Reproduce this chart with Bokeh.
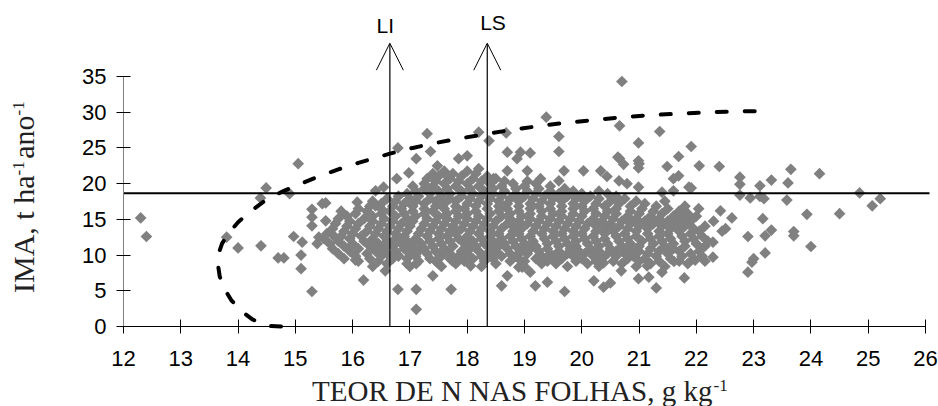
import math
from bokeh.plotting import figure
from bokeh.models import FixedTicker, Arrow, OpenHead, Label, Range1d, ColumnDataSource
from bokeh.embed import file_html
from bokeh.resources import INLINE

# ---------------- data ----------------
x_ticks = list(range(12, 27))
y_ticks = [0, 5, 10, 15, 20, 25, 30, 35]
x_axis_bounds = (12, 26)
y_axis_bounds = (0, 35)
threshold_y = 18.65          # horizontal reference line
threshold_x_end = 26.07
li_x = 16.65                 # LI
ls_x = 18.35                 # LS
arrow_top = 39.66

# isolated / edge points
pts_x = [12.30, 12.40, 13.80, 14.00, 14.40, 14.70, 14.80, 15.10, 15.10, 14.97, 15.12, 15.29, 15.29, 15.05, 14.49,
         14.39, 14.90, 15.29, 15.47, 17.30, 16.79, 17.11, 17.36, 18.20, 18.38, 18.70, 18.00, 17.85, 16.98, 16.77,
         16.54, 16.40, 15.53, 16.08, 16.40, 17.48, 17.65, 18.20, 18.46, 18.70, 18.87, 19.38, 19.60, 19.60, 20.70,
         20.66, 21.36, 20.99, 21.91, 21.69, 22.05, 22.40, 21.49, 20.66, 20.99, 19.10, 18.93, 20.99, 20.73, 20.03,
         20.33, 20.44, 19.69, 19.60, 19.28, 19.05, 21.69, 21.60, 21.91, 20.65, 20.79, 20.99, 21.40, 21.60, 22.04,
         22.42, 22.76, 22.76, 23.11, 23.31, 23.65, 23.60, 24.15, 22.76, 22.94, 23.11, 23.18, 23.58, 24.85, 25.07,
         25.21, 23.93, 24.50, 23.16, 22.62, 22.51, 22.90, 23.20, 23.31, 23.70, 23.70, 24.00, 23.20, 23.00, 22.97,
         22.90, 16.19, 16.05, 16.57, 16.79, 17.11, 17.11, 17.11, 17.40, 17.72, 16.79, 18.60, 18.70, 18.90, 17.74,
         18.06, 15.53, 15.67, 16.00, 19.19, 19.40, 19.70, 20.21, 20.38, 20.50, 19.10, 18.96, 20.38, 20.69, 20.99,
         21.17, 21.30, 21.40, 21.14, 21.79, 21.61, 21.98, 22.29, 22.29, 18.68, 20.63, 21.00, 21.87, 15.29, 15.41,
         15.38]
pts_y = [15.2, 12.6, 12.5, 11.0, 11.3, 9.6, 9.6, 10.0, 8.1, 12.6, 11.8, 4.9, 14.1, 22.8, 19.4,
         18.0, 18.6, 16.4, 17.2, 27.0, 25.0, 23.5, 24.5, 27.2, 26.0, 24.4, 23.9, 23.5, 21.5, 20.7,
         19.5, 19.0, 17.3, 17.4, 16.9, 22.5, 21.1, 22.1, 20.7, 21.8, 23.5, 29.3, 26.6, 24.5, 34.3,
         28.1, 27.3, 25.7, 25.2, 23.8, 22.5, 22.4, 22.4, 23.5, 23.2, 24.3, 24.4, 22.2, 22.7, 21.8,
         21.8, 21.0, 21.8, 20.4, 20.7, 21.8, 21.1, 20.7, 19.4, 20.4, 20.0, 19.5, 18.8, 19.0, 16.5,
         16.2, 20.9, 19.9, 19.7, 20.5, 22.0, 20.1, 21.4, 18.4, 18.0, 18.2, 17.9, 17.7, 18.7, 16.9,
         17.9, 15.7, 15.8, 15.1, 15.2, 13.7, 12.6, 12.7, 13.5, 13.3, 12.7, 11.2, 10.3, 9.5, 9.0,
         7.6, 6.5, 9.3, 7.8, 5.2, 5.2, 2.4, 8.8, 7.1, 5.2, 10.0, 5.7, 7.1, 8.3, 9.2,
         8.5, 14.8, 12.7, 13.0, 5.7, 6.2, 4.9, 6.4, 5.5, 6.1, 7.6, 8.3, 8.9, 7.8, 6.7,
         6.9, 5.4, 7.6, 8.5, 6.8, 9.1, 9.3, 9.7, 11.8, 27.1, 23.7, 22.8, 19.5, 15.3, 12.5,
         11.6]

# dense core of the cloud, read row by row (IMA level -> N contents)
cloud_rows_y = [8.4, 8.8, 9.15, 9.5, 9.85, 10.2, 10.55, 10.9, 11.25, 11.6, 11.95, 12.3, 12.65, 13.0, 13.35,
                13.7, 14.05, 14.4, 14.75, 15.1, 15.45, 15.8, 16.15, 16.5, 16.85, 17.2, 17.55, 17.9, 18.25,
                18.6, 18.95, 19.3, 19.65, 20.0, 20.35, 20.7, 21.05, 21.4, 21.75]
cloud_rows_x = [
    [16.35, 17.0, 17.55, 18.25, 19.0, 19.75, 20.3, 20.95, 21.45],
    [16.6, 16.95, 17.5, 17.8, 18.5, 19.3, 19.55, 20.1, 20.7, 21.2, 21.85],
    [16.1, 16.45, 17.15, 17.45, 17.95, 18.3, 18.75, 19.0, 19.4, 19.9, 20.25, 20.55, 21.0, 21.35, 21.7, 22.15],
    [15.85, 16.3, 16.7, 16.95, 17.35, 17.7, 18.1, 18.45, 18.9, 19.2, 19.65, 20.0, 20.35, 20.8, 21.1, 21.55, 21.95],
    [16.05, 16.5, 16.8, 17.1, 17.55, 17.85, 18.25, 18.6, 18.85, 19.3, 19.5, 19.85, 20.2, 20.6, 20.9, 21.3, 21.75, 22.1],
    [15.75, 16.25, 16.6, 17.0, 17.3, 17.7, 18.0, 18.35, 18.75, 19.05, 19.45, 19.75, 20.05, 20.45, 20.75, 21.15, 21.5, 21.9],
    [15.95, 16.4, 16.75, 17.15, 17.45, 17.9, 18.2, 18.5, 18.95, 19.25, 19.6, 19.95, 20.3, 20.6, 21.0, 21.35, 21.7, 22.05],
    [15.65, 16.1, 16.55, 16.9, 17.25, 17.6, 18.05, 18.4, 18.7, 19.1, 19.4, 19.8, 20.15, 20.5, 20.85, 21.2, 21.6],
    [15.85, 16.3, 16.7, 17.05, 17.4, 17.75, 18.15, 18.55, 18.85, 19.2, 19.6, 19.9, 20.3, 20.7, 21.0, 21.45, 21.8, 22.15],
    [15.6, 16.0, 16.45, 16.85, 17.2, 17.55, 17.95, 18.3, 18.65, 19.0, 19.4, 19.75, 20.1, 20.45, 20.85, 21.25, 21.6, 22.0],
    [15.75, 16.2, 16.6, 16.95, 17.35, 17.7, 18.1, 18.45, 18.8, 19.15, 19.55, 19.9, 20.25, 20.65, 21.05, 21.4, 21.8, 22.2],
    [15.5, 15.95, 16.35, 16.75, 17.1, 17.5, 17.85, 18.25, 18.6, 18.95, 19.35, 19.7, 20.05, 20.4, 20.8, 21.2, 21.55, 21.95],
    [15.8, 16.15, 16.55, 16.9, 17.3, 17.65, 18.0, 18.4, 18.75, 19.1, 19.5, 19.85, 20.2, 20.6, 20.95, 21.35, 21.75, 22.1],
    [15.55, 16.0, 16.4, 16.75, 17.15, 17.5, 17.8, 18.2, 18.55, 18.9, 19.3, 19.65, 20.0, 20.4, 20.75, 21.15, 21.5, 21.9],
    [15.85, 16.25, 16.6, 16.95, 17.35, 17.7, 18.05, 18.4, 18.8, 19.15, 19.5, 19.85, 20.25, 20.55, 20.95, 21.35, 21.7, 22.05, 22.45],
    [15.65, 16.05, 16.45, 16.8, 17.2, 17.55, 17.9, 18.25, 18.6, 18.95, 19.35, 19.7, 20.05, 20.4, 20.8, 21.15, 21.55, 21.95],
    [15.9, 16.3, 16.65, 17.0, 17.4, 17.75, 18.1, 18.45, 18.8, 19.2, 19.55, 19.9, 20.25, 20.65, 21.0, 21.4, 21.8, 22.15],
    [15.7, 16.1, 16.5, 16.85, 17.25, 17.6, 17.95, 18.3, 18.7, 19.05, 19.4, 19.75, 20.1, 20.5, 20.85, 21.25, 21.65],
    [15.95, 16.35, 16.7, 17.05, 17.45, 17.8, 18.15, 18.5, 18.9, 19.25, 19.6, 19.95, 20.35, 20.7, 21.1, 21.5, 21.9, 22.3],
    [15.75, 16.2, 16.55, 16.95, 17.3, 17.65, 18.0, 18.35, 18.75, 19.1, 19.45, 19.8, 20.2, 20.55, 20.95, 21.35, 21.75],
    [15.9, 16.35, 16.75, 17.1, 17.5, 17.85, 18.2, 18.6, 18.95, 19.3, 19.65, 20.0, 20.4, 20.8, 21.2, 21.6, 22.0],
    [16.05, 16.5, 16.9, 17.25, 17.65, 18.0, 18.4, 18.75, 19.1, 19.5, 19.85, 20.25, 20.6, 21.0, 21.4, 21.85],
    [15.8, 16.25, 16.65, 17.05, 17.4, 17.8, 18.15, 18.55, 18.9, 19.3, 19.65, 20.05, 20.45, 20.85, 21.25, 21.7],
    [16.1, 16.5, 16.85, 17.25, 17.6, 17.95, 18.35, 18.7, 19.1, 19.45, 19.85, 20.2, 20.6, 21.05, 21.5],
    [16.3, 16.7, 17.05, 17.45, 17.8, 18.15, 18.55, 18.9, 19.25, 19.65, 20.0, 20.4, 20.85, 21.3, 21.8],
    [16.5, 16.9, 17.25, 17.6, 18.0, 18.35, 18.7, 19.1, 19.45, 19.85, 20.25, 20.65, 21.1],
    [16.35, 16.75, 17.1, 17.45, 17.8, 18.2, 18.55, 18.9, 19.3, 19.65, 20.05, 20.5, 20.95, 21.45],
    [16.6, 17.0, 17.35, 17.7, 18.05, 18.4, 18.75, 19.15, 19.5, 19.9, 20.3, 20.75],
    [16.8, 17.15, 17.55, 17.9, 18.25, 18.6, 19.0, 19.35, 19.75, 20.15, 20.6],
    [16.95, 17.35, 17.7, 18.1, 18.45, 18.85, 19.2, 19.6, 20.0, 20.45],
    [17.1, 17.5, 17.9, 18.3, 18.65, 19.05, 19.45, 19.85, 20.3],
    [17.25, 17.65, 18.05, 18.45, 18.85, 19.25, 19.7],
    [17.05, 17.4, 17.8, 18.2, 18.6, 19.0, 19.45],
    [17.25, 17.6, 18.0, 18.4, 18.8, 19.2],
    [17.45, 17.85, 18.25, 18.65, 19.05],
    [17.3, 17.7, 18.1, 18.5],
    [17.5, 17.9, 18.35],
    [17.4, 17.75, 18.15],
    [17.6, 18.0],
]

# boundary (dashed) curve
curve_x = [14.75, 14.50, 14.25, 14.05, 13.88, 13.76, 13.68, 13.65, 13.66, 13.72, 13.83, 14.00, 14.20, 14.50,
           14.80, 15.10, 15.40, 15.75, 16.10, 16.65, 17.05, 17.45, 17.85, 18.30, 18.75, 19.20, 19.70, 20.20,
           20.70, 21.20, 21.70, 22.20, 22.70, 23.32]
curve_y = [0.0, 0.08, 1.0, 2.2, 3.7, 5.3, 7.0, 8.6, 10.2, 11.6, 13.0, 14.6, 16.0, 17.8,
           19.0, 20.0, 21.0, 22.0, 22.9, 24.2, 25.0, 25.7, 26.3, 26.9, 27.5, 28.0, 28.5, 28.9,
           29.3, 29.6, 29.8, 30.0, 30.1, 30.2]

# ---------------- build ----------------
all_x = list(pts_x)
all_y = list(pts_y)
for yv, xs in zip(cloud_rows_y, cloud_rows_x):
    all_x += xs
    all_y += [yv] * len(xs)
src = ColumnDataSource(dict(x=all_x, y=all_y))

# the frame covers the whole canvas; axes are pinned at x=12 / y=0
p = figure(width=938, height=406, x_range=Range1d(9.853, 26.227), y_range=Range1d(-11.2, 45.64),
           output_backend="svg", toolbar_location=None,
           min_border_left=0, min_border_right=0, min_border_top=0, min_border_bottom=0)
p.outline_line_color = None
p.grid.visible = False
p.background_fill_color = "white"
p.border_fill_color = "white"

# axes
xa = p.xaxis[0]
xa.fixed_location = 0
xa.bounds = x_axis_bounds
xa.ticker = FixedTicker(ticks=x_ticks)
xa.axis_line_color = "black"
xa.major_tick_line_color = "black"
xa.major_tick_in = 7
xa.major_tick_out = 7
xa.minor_tick_line_color = None
xa.major_label_text_font = "Liberation Sans"
xa.major_label_text_font_size = "22px"
xa.major_label_text_color = "black"
xa.major_label_standoff = 17

ya = p.yaxis[0]
ya.fixed_location = 12
ya.bounds = y_axis_bounds
ya.ticker = FixedTicker(ticks=y_ticks)
ya.axis_line_color = "#808080"
ya.major_tick_line_color = "black"
ya.major_tick_in = 7
ya.major_tick_out = 7
ya.minor_tick_line_color = None
ya.major_label_text_font = "Liberation Sans"
ya.major_label_text_font_size = "22px"
ya.major_label_text_color = "black"
ya.major_label_standoff = 10

# points
p.scatter("x", "y", source=src, marker="square", size=8.3, angle=math.pi / 4,
          fill_color="#808080", line_color=None)

# boundary curve
p.line(curve_x, curve_y, line_color="black", line_width=4, line_dash="10 18", line_cap="round")

# reference lines
p.segment(x0=[x_axis_bounds[0]], y0=[threshold_y], x1=[threshold_x_end], y1=[threshold_y],
          line_color="black", line_width=2)
for xv in (li_x, ls_x):
    p.add_layout(Arrow(end=OpenHead(size=27, line_color="black", line_width=1),
                       x_start=xv, y_start=0, x_end=xv, y_end=arrow_top,
                       line_color="black", line_width=1.2))

p.add_layout(Label(x=16.57, y=42.14, text="LI", text_align="center", text_baseline="alphabetic",
                   text_font="Liberation Sans", text_font_size="21px", text_color="black"))
p.add_layout(Label(x=18.45, y=42.6, text="LS", text_align="center", text_baseline="alphabetic",
                   text_font="Liberation Sans", text_font_size="21px", text_color="black"))

# axis titles (serif, with superscripts)
tcol = "#222222"
p.add_layout(Label(x=22.28, y=-8.96, text="TEOR DE N NAS FOLHAS, g kg", text_align="right",
                   text_baseline="alphabetic", text_font="Liberation Serif", text_font_size="29px",
                   text_color=tcol))
p.add_layout(Label(x=22.30, y=-8.26, text="-1", text_align="left", text_baseline="alphabetic",
                   text_font="Liberation Serif", text_font_size="17px", text_color=tcol))

p.add_layout(Label(x=10.263, y=21.14, text="IMA, t ha", angle=math.pi / 2, text_align="right",
                   text_baseline="alphabetic", text_font="Liberation Serif", text_font_size="30px",
                   text_color=tcol))
p.add_layout(Label(x=10.175, y=21.14, text="-1", angle=math.pi / 2, text_align="left",
                   text_baseline="alphabetic", text_font="Liberation Serif", text_font_size="17px",
                   text_color=tcol))
p.add_layout(Label(x=10.263, y=29.54, text="ano", angle=math.pi / 2, text_align="right",
                   text_baseline="alphabetic", text_font="Liberation Serif", text_font_size="30px",
                   text_color=tcol))
p.add_layout(Label(x=10.175, y=29.54, text="-1", angle=math.pi / 2, text_align="left",
                   text_baseline="alphabetic", text_font="Liberation Serif", text_font_size="17px",
                   text_color=tcol))

open("out.html", "w").write(file_html(p, INLINE))
